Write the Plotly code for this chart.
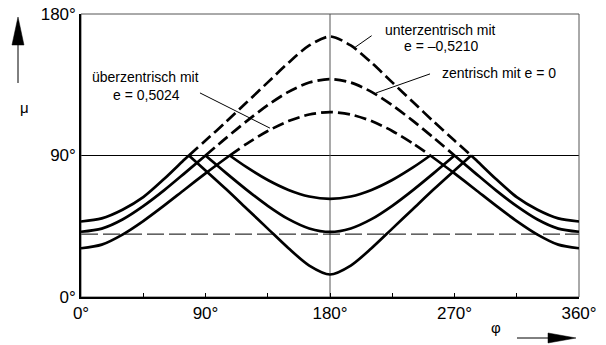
import plotly.graph_objects as go

# ---- data ----
# crank angle phi (deg) and transmission angle mu (deg) for each mechanism
unter_phi = [0, 15, 30, 45, 60, 75, 78, 90, 105, 120, 135, 150, 165, 180,
             195, 210, 225, 240, 255, 270, 282, 285, 300, 315, 330, 345, 360]
unter_mu = [48.0, 50.0, 55.5, 63.5, 75.0, 87.6, 90.0, 99.5, 111.5, 124.0, 136.5, 149.0, 160.0, 165.7,
            160.0, 149.0, 136.5, 124.0, 111.5, 99.5, 90.0, 87.6, 75.0, 63.5, 55.5, 50.0, 48.0]

zentr_phi = [0, 15, 30, 45, 60, 75, 90, 105, 120, 135, 150, 165, 180,
             195, 210, 225, 240, 255, 270, 285, 300, 315, 330, 345, 360]
zentr_mu = [41.5, 43.5, 49.3, 57.8, 67.8, 78.8, 90.0, 101.2, 112.0, 122.0, 130.5, 136.4, 138.6,
            136.4, 130.5, 122.0, 112.0, 101.2, 90.0, 78.8, 67.8, 57.8, 49.3, 43.5, 41.5]

ueber_phi = [0, 15, 30, 45, 60, 75, 90, 105, 107.5, 120, 135, 150, 165, 180,
             195, 210, 225, 240, 252.5, 255, 270, 285, 300, 315, 330, 345, 360]
ueber_mu = [31.0, 33.3, 39.7, 48.3, 58.1, 68.4, 78.6, 88.4, 90.0, 97.6, 105.6, 111.9, 116.1, 117.6,
            116.1, 111.9, 105.6, 97.6, 90.0, 88.4, 78.6, 68.4, 58.1, 48.3, 39.7, 33.3, 31.0]

x_ticks = [0, 90, 180, 270, 360]
x_ticklabels = ["0°", "90°", "180°", "270°", "360°"]
y_ticks = [0, 90, 180]
y_ticklabels = ["0°", "90°", "180°"]
ref_mu = 40.0

fig = go.Figure()

LW = 2.7


def add_curve(phi, mu):
    # split at the points where mu == 90
    cuts = [i for i, m in enumerate(mu) if m == 90.0]
    bounds = [0] + cuts + [len(mu) - 1]
    for k in range(len(bounds) - 1):
        a, b = bounds[k], bounds[k + 1]
        xs = phi[a:b + 1]
        ms = mu[a:b + 1]
        above = any(m > 90 for m in ms)
        if above:
            # folded solid part
            fig.add_trace(go.Scatter(x=xs, y=[180 - m for m in ms], mode="lines",
                                     line=dict(color="black", width=LW, shape="spline", smoothing=0.8),
                                     hoverinfo="skip", showlegend=False))
            # dashed real part
            fig.add_trace(go.Scatter(x=xs, y=ms, mode="lines",
                                     line=dict(color="black", width=LW, dash="12px,5px",
                                               shape="spline", smoothing=0.8),
                                     hoverinfo="skip", showlegend=False))
        else:
            fig.add_trace(go.Scatter(x=xs, y=ms, mode="lines",
                                     line=dict(color="black", width=LW, shape="spline", smoothing=0.8),
                                     hoverinfo="skip", showlegend=False))


add_curve(unter_phi, unter_mu)
add_curve(zentr_phi, zentr_mu)
add_curve(ueber_phi, ueber_mu)

# reference lines
fig.add_hline(y=90, line=dict(color="black", width=1), layer="below")
fig.add_vline(x=180, line=dict(color="#555555", width=1), layer="below")
fig.add_hline(y=ref_mu, line=dict(color="black", width=1, dash="17px,5px"), layer="below")

# frame (top/right grey)
fig.add_shape(type="rect", xref="paper", yref="paper", x0=0, y0=0, x1=1, y1=1,
              line=dict(color="#555555", width=1), layer="below")

# leader lines
leaders = [
    (210.1, 166.2, 198.1, 158.8),
    (252.3, 141.9, 213.3, 129.8),
    (86.0, 129.8, 136.6, 107.4),
]
for x0, y0, x1, y1 in leaders:
    fig.add_shape(type="line", x0=x0, y0=y0, x1=x1, y1=y1,
                  line=dict(color="black", width=1))

TF = dict(family="Liberation Sans, Arial, sans-serif", size=14, color="black")
labels = [
    (260.2, 169.7, "unterzentrisch mit"),
    (260.8, 159.5, "e = –0,5210"),
    (302.2, 142.5, "zentrisch mit e = 0"),
    (46.6, 139.8, "überzentrisch mit"),
    (47.0, 128.7, "e = 0,5024"),
]
for x, y, t in labels:
    fig.add_annotation(x=x, y=y, text=t, showarrow=False, font=TF, height=14,
                       xanchor="center", yanchor="middle", borderpad=0)

# axis arrows and symbols
fig.add_shape(type="line", xref="paper", yref="paper", x0=-0.1265, y0=0.7562, x1=-0.1265, y1=0.93,
              line=dict(color="black", width=1))
fig.add_shape(type="path", xref="paper", yref="paper",
              path="M -0.1386,0.8905 L -0.1145,0.8905 L -0.1265,0.9894 Z",
              fillcolor="black", line=dict(color="black", width=0.5))
fig.add_annotation(xref="paper", yref="paper", x=-0.1265, y=0.7067, text="μ",
                   showarrow=False, font=dict(family="Liberation Sans, Arial", size=15, color="black"))

fig.add_shape(type="line", xref="paper", yref="paper", x0=0.8755, y0=-0.1449, x1=0.95, y1=-0.1449,
              line=dict(color="black", width=1))
fig.add_shape(type="path", xref="paper", yref="paper",
              path="M 0.9378,-0.1272 L 0.9378,-0.1625 L 0.9940,-0.1449 Z",
              fillcolor="black", line=dict(color="black", width=0.5))
fig.add_annotation(xref="paper", yref="paper", x=0.8474, y=-0.1449, text="φ",
                   showarrow=False, font=dict(family="Liberation Sans, Arial", size=15, color="black"))

TICKF = dict(family="Liberation Sans, Arial, sans-serif", size=17, color="black")
fig.update_xaxes(range=[0, 360], tickvals=x_ticks, ticktext=x_ticklabels, automargin=False,
                 showgrid=False, zeroline=False, showline=True, linecolor="black", linewidth=1.5,
                 ticks="inside", ticklen=4, tickcolor="black", tickfont=TICKF,
                 minor=dict(tickvals=[45, 135, 225, 315], ticks="inside", ticklen=4, tickcolor="black"))
fig.update_yaxes(range=[0, 180], tickvals=y_ticks, ticktext=y_ticklabels, automargin=False,
                 showgrid=False, zeroline=False, showline=True, linecolor="black", linewidth=1.5,
                 ticks="", tickfont=TICKF)

fig.update_layout(width=606, height=345, margin=dict(l=81, r=27, t=14, b=48, autoexpand=False),
                  paper_bgcolor="white", plot_bgcolor="white", showlegend=False)

fig.write_html("out.html", config={"displayModeBar": False},
               post_script="document.body.style.margin='0';document.body.style.overflow='hidden';")
